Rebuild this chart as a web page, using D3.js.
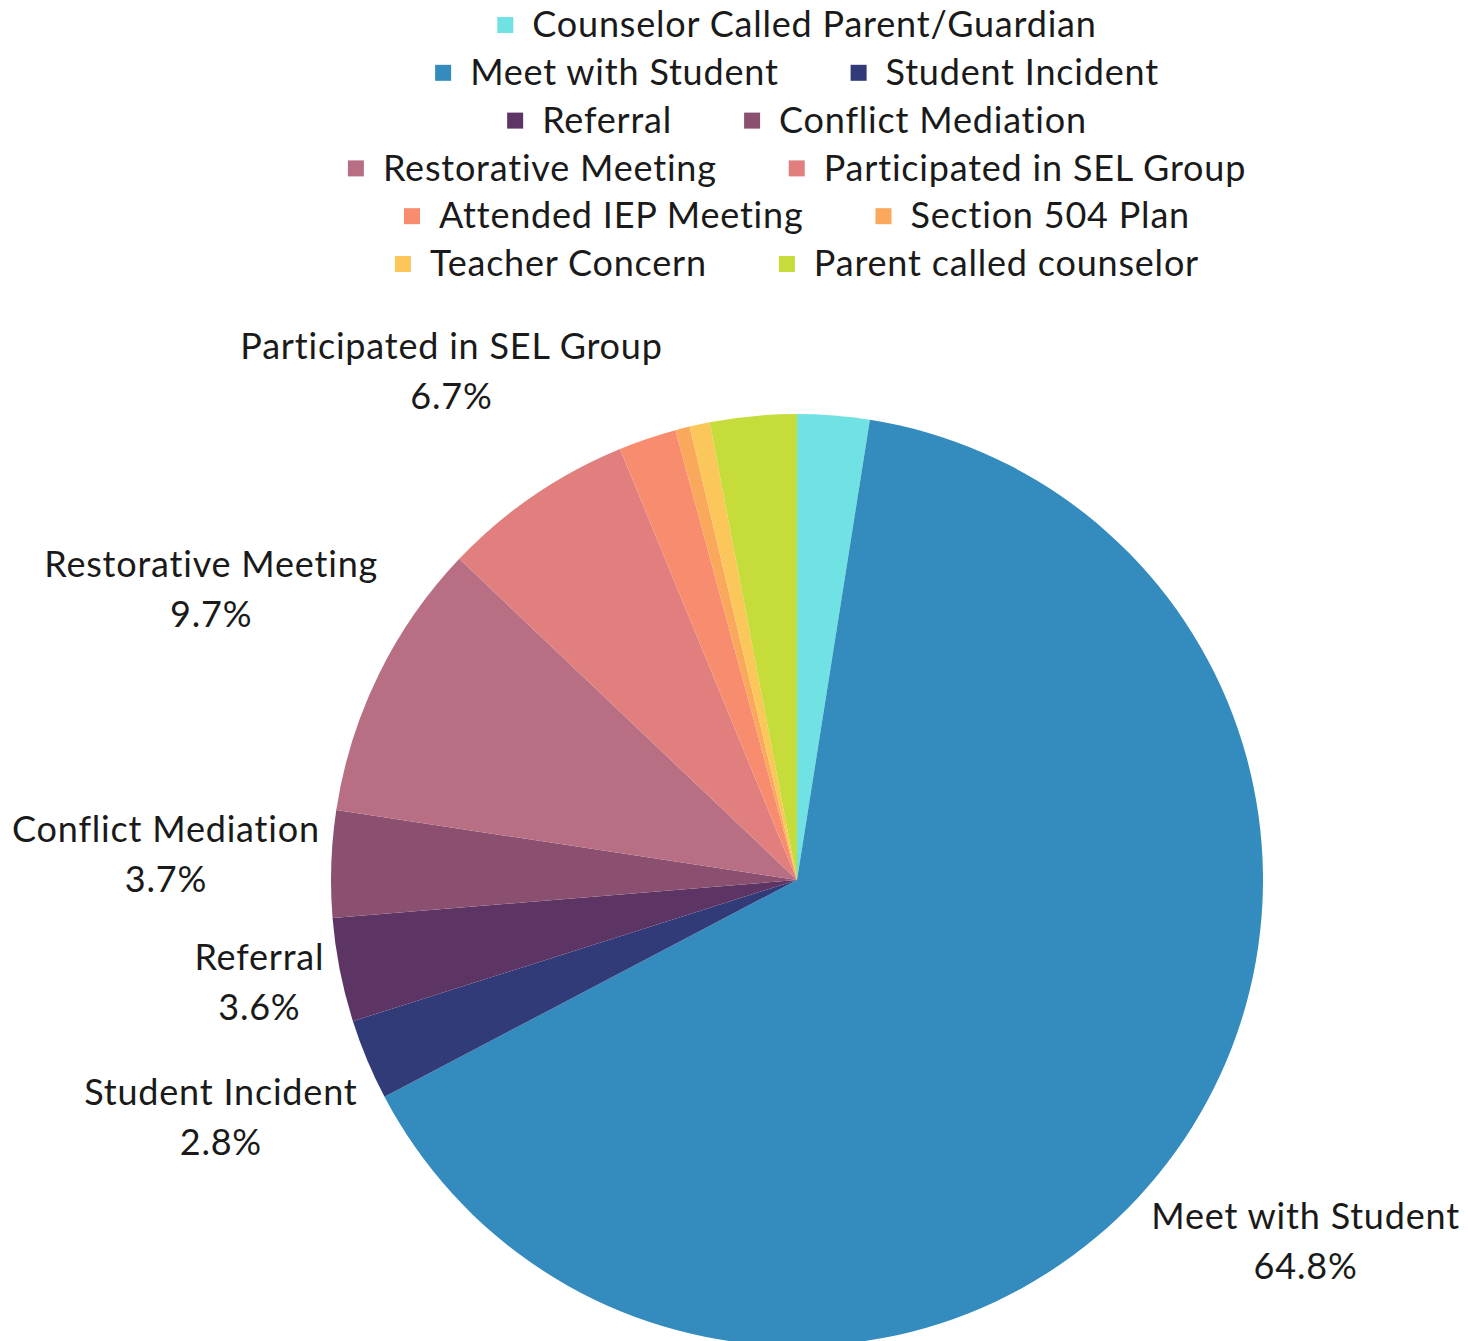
<!DOCTYPE html>
<html>
<head>
<meta charset="utf-8">
<script src="https://cdn.jsdelivr.net/npm/d3@7"></script>
<style>
  html, body { margin: 0; padding: 0; background: #fff; }
  svg { display: block; }
  text { font-family: Lato, "Open Sans", sans-serif; fill: #1a1a1a; letter-spacing: 0.8px; }
</style>
</head>
<body>
<svg id="chart" width="1468" height="1341"></svg>
<script>
// ---- data ----
const categories = [
  "Counselor Called Parent/Guardian",
  "Meet with Student",
  "Student Incident",
  "Referral",
  "Conflict Mediation",
  "Restorative Meeting",
  "Participated in SEL Group",
  "Attended IEP Meeting",
  "Section 504 Plan",
  "Teacher Concern",
  "Parent called counselor"
];
const values = [2.5, 64.8, 2.8, 3.6, 3.7, 9.7, 6.7, 2.0, 0.5, 0.7, 3.0];
const colors = ["#70e2e4", "#348bbd", "#313b78", "#5d3565", "#8b5070", "#b86f84",
                "#e07f7e", "#f78d6e", "#f9a85c", "#fcc75a", "#c6dc3a"];
const labeled = ["Meet with Student", "Student Incident", "Referral", "Conflict Mediation",
                 "Restorative Meeting", "Participated in SEL Group"];
const pctLabels = ["64.8%", "2.8%", "3.6%", "3.7%", "9.7%", "6.7%"];
const legendRowSizes = [1, 2, 2, 2, 2, 2];

// ---- layout ----
const W = 1468, H = 1341;
const cx = 797, cy = 880, R = 466;
const fontSize = 36;
const svg = d3.select("#chart");

const data = categories.map((c, i) => ({ name: c, value: values[i], color: colors[i] }));

const pie = d3.pie().value(d => d.value).sort(null);
const arcs = pie(data);
const arc = d3.arc().innerRadius(0).outerRadius(R);

const g = svg.append("g").attr("transform", `translate(${cx},${cy})`);
g.selectAll("path").data(arcs).join("path")
  .attr("d", arc)
  .attr("fill", d => d.data.color);

// labels
const labelRadiusFactor = {
  "Meet with Student": 1.343, "Student Incident": 1.34, "Referral": 1.176,
  "Conflict Mediation": 1.355, "Restorative Meeting": 1.40, "Participated in SEL Group": 1.313
};
const lg = g.append("g");
arcs.filter(a => labeled.includes(a.data.name)).forEach(a => {
  const idx = labeled.indexOf(a.data.name);
  const f = labelRadiusFactor[a.data.name] || 1.33;
  const mid = (a.startAngle + a.endAngle) / 2;
  const rr = R * f;
  const x = Math.sin(mid) * rr, y = -Math.cos(mid) * rr;
  const t = lg.append("text").attr("text-anchor", "middle")
    .attr("font-size", fontSize);
  t.append("tspan").attr("x", x).attr("y", y - 25 + 9).text(a.data.name);
  t.append("tspan").attr("x", x).attr("y", y + 25 + 9).text(pctLabels[idx]);
});

// legend (explicit rows, centered)
const sq = 16, gapSq = 19, itemGap = 72, rowH = 47.8;
const legendTop = 25;
const measure = svg.append("text").attr("font-size", fontSize).attr("visibility", "hidden");
const items = data.map(d => {
  measure.text(d.name);
  const w = measure.node().getComputedTextLength();
  return { ...d, tw: w, w: sq + gapSq + w };
});
measure.remove();
const rows = [];
let k = 0;
legendRowSizes.forEach(n => { rows.push(items.slice(k, k + n)); k += n; });
const legend = svg.append("g");
rows.forEach((row, ri) => {
  const total = row.reduce((s, it) => s + it.w, 0) + itemGap * (row.length - 1);
  let x = cx - total / 2;
  const y = legendTop + ri * rowH;
  row.forEach(it => {
    legend.append("rect").attr("x", x).attr("y", y - sq / 2).attr("width", sq).attr("height", sq)
      .attr("fill", it.color);
    legend.append("text").attr("x", x + sq + gapSq).attr("y", y).attr("dy", "0.34em")
      .attr("font-size", fontSize).text(it.name);
    x += it.w + itemGap;
  });
});
</script>
</body>
</html>
